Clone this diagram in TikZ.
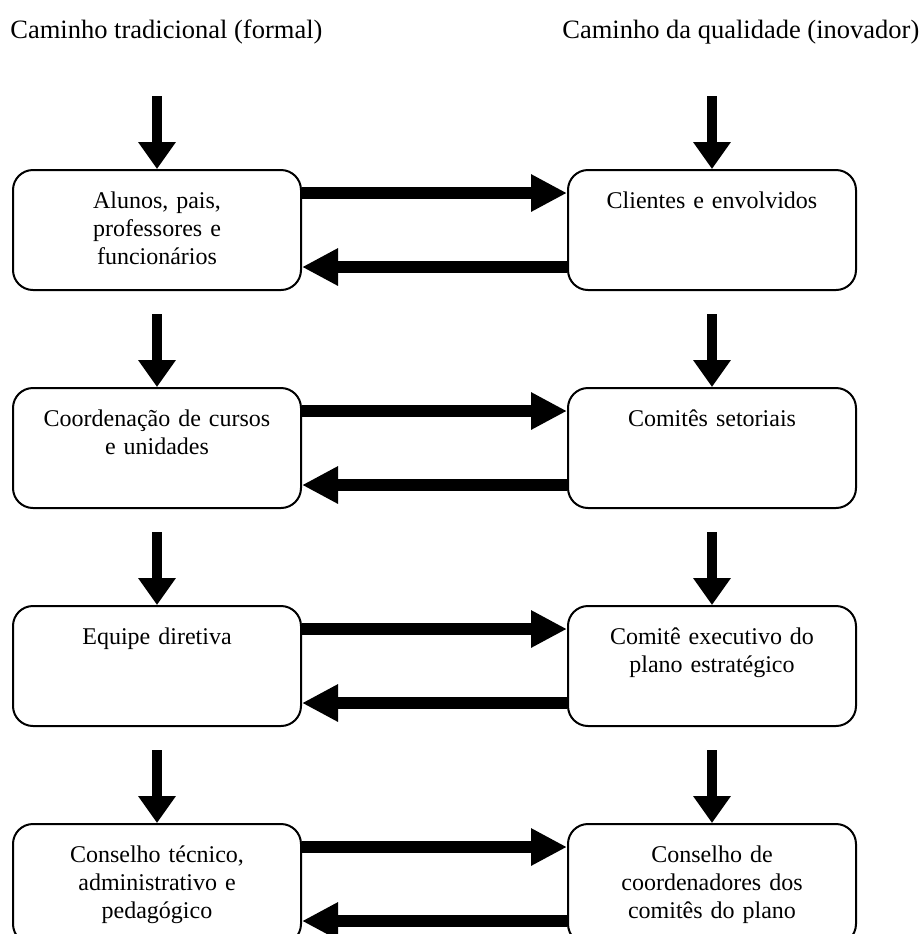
\documentclass[tikz,border=0pt]{standalone}
\usepackage{fontspec}
\setmainfont{Liberation Serif}
\usetikzlibrary{arrows.meta, positioning}
\tikzset{
  box/.style   = {draw, rounded corners=10pt, line width=1pt,
                  text width=144pt, align=center, inner xsep=0pt, inner ysep=0pt,
                  text height=19pt, text depth=41pt,
                  font=\fontsize{12}{14}\selectfont},
  title/.style = {anchor=base west, inner sep=0pt,
                  font=\fontsize{13.25}{16}\selectfont},
  fat/.style   = {line width=6pt, -{Triangle[length=18pt, width=17.5pt]}},
  down/.style  = {line width=5pt, -{Triangle[length=13.5pt, width=18pt]}},
}
\begin{document}
\begin{tikzpicture}[node distance = 48pt and 132.5pt]
  \useasboundingbox (0,0) rectangle (461.5pt,-467pt);

  \node[title] (ttrad) at (5pt,-19pt)   {Caminho tradicional (formal)};
  \node[title] (tqual) at (281pt,-19pt) {Caminho da qualidade (inovador)};

  \node[box] (trad1) at (78.5pt,-115pt) {Alunos, pais,\\professores e\\funcionários};
  \node[box, below=of trad1] (trad2) {Coordenação de cursos\\e unidades};
  \node[box, below=of trad2] (trad3) {Equipe diretiva};
  \node[box, below=of trad3] (trad4) {Conselho técnico,\\administrativo e\\pedagógico};

  \node[box, right=of trad1] (qual1) {Clientes e envolvidos};
  \node[box, right=of trad2] (qual2) {Comitês setoriais};
  \node[box, right=of trad3] (qual3) {Comitê executivo do\\plano estratégico};
  \node[box, right=of trad4] (qual4) {Conselho de\\coordenadores dos\\comitês do plano};

  \coordinate[above=36.5pt of trad1.north] (intrad);
  \coordinate[above=36.5pt of qual1.north] (inqual);
  \draw[down] (intrad) -- (trad1);
  \draw[down] (inqual) -- (qual1);

  \foreach \a/\b in {trad1/trad2, trad2/trad3, trad3/trad4,
                     qual1/qual2, qual2/qual3, qual3/qual4}
    \draw[down, shorten <=11.5pt] (\a) -- (\b);

  \foreach \i in {1,...,4} {
    \draw[fat] ([yshift=18.5pt]trad\i.east) -- ([yshift=18.5pt]qual\i.west);
    \draw[fat] ([yshift=-18.5pt]qual\i.west) -- ([yshift=-18.5pt]trad\i.east);
  }
\end{tikzpicture}
\end{document}
